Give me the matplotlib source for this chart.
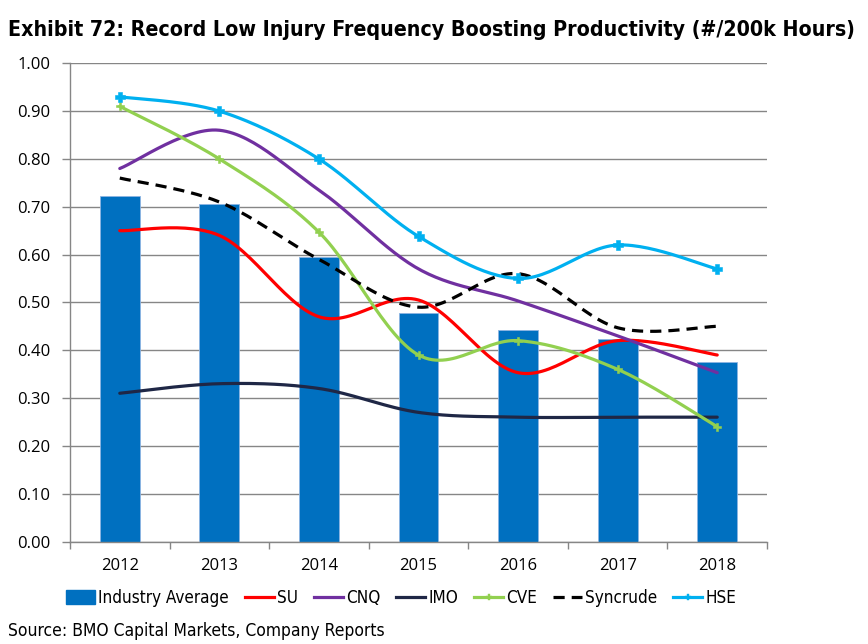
import numpy as np
import matplotlib
matplotlib.use("Agg")
import matplotlib.pyplot as plt
from matplotlib.patches import Patch
from matplotlib.lines import Line2D

years = ["2012", "2013", "2014", "2015", "2016", "2017", "2018"]
industry_avg = [0.722, 0.706, 0.595, 0.478, 0.442, 0.424, 0.376]
su = [0.65, 0.64, 0.47, 0.505, 0.353, 0.42, 0.39]
cnq = [0.78, 0.86, 0.735, 0.57, 0.503, 0.43, 0.353]
imo = [0.31, 0.33, 0.32, 0.27, 0.26, 0.26, 0.26]
cve = [0.91, 0.80, 0.647, 0.39, 0.42, 0.36, 0.24]
syncrude = [0.76, 0.71, 0.59, 0.49, 0.56, 0.447, 0.45]
hse = [0.93, 0.90, 0.80, 0.638, 0.55, 0.62, 0.57]
yticks = [0.0, 0.1, 0.2, 0.3, 0.4, 0.5, 0.6, 0.7, 0.8, 0.9, 1.0]

NARROW = ["DejaVu Sans"]
REG = ["Open Sans", "DejaVu Sans"]


def smooth(xs, ys, n=30):
    """Excel-like smoothed line: cubic Bezier with Catmull-Rom tangents."""
    P = np.column_stack([xs, ys]).astype(float)
    m = len(P)
    out = []
    t = np.linspace(0, 1, n)
    for i in range(m - 1):
        p0 = P[i - 1] if i > 0 else P[i]
        p1 = P[i]
        p2 = P[i + 1]
        p3 = P[i + 2] if i + 2 < m else P[i + 1]
        c1 = p1 + (p2 - p0) / 6.0
        c2 = p2 - (p3 - p1) / 6.0
        seg = ((1 - t) ** 3)[:, None] * p1 + (3 * (1 - t) ** 2 * t)[:, None] * c1 \
            + (3 * (1 - t) * t ** 2)[:, None] * c2 + (t ** 3)[:, None] * p2
        out.append(seg if i == 0 else seg[1:])
    s = np.vstack(out)
    return s[:, 0], s[:, 1]


fig = plt.figure(figsize=(8.68, 6.44), dpi=100)
renderer = fig.canvas.get_renderer()
ax = fig.add_axes([70 / 868, 1 - 541.5 / 644, 697 / 868, (541.5 - 63.3) / 644])

x = np.arange(len(years))
grey = "#868686"

ax.bar(x, industry_avg, width=0.4, color="#0070C0", edgecolor="#8DB4E2",
       linewidth=0.6, zorder=2)

series = [
    (su, "#FF0000", "-", None, 0),
    (cnq, "#7030A0", "-", None, 0),
    (imo, "#1F2746", "-", None, 0),
    (cve, "#92D050", "-", "P", 6.0),
    (syncrude, "#000000", (0, (3.5, 2.2)), None, 0),
    (hse, "#00B0F0", "-", "P", 7.0),
]
for vals, col, ls, mk, ms in series:
    sx, sy = smooth(x, vals)
    ax.plot(sx, sy, color=col, lw=2.3, ls=ls, zorder=3, solid_capstyle="round")
    if mk:
        ax.plot(x, vals, ls="none", marker=mk, ms=ms, color=col,
                markeredgewidth=0.4, markeredgecolor=col, zorder=4)

ax.set_xlim(-0.5, 6.5)
ax.set_ylim(0, 1.0)
ax.set_yticks(yticks)
ax.set_yticklabels([f"{v:.2f}" for v in yticks], family=REG, fontsize=12)
ax.set_xticks(x)
ax.set_xticklabels(years, family=REG, fontsize=12)
ax.set_xticks(np.arange(-0.5, 7, 1), minor=True)
ax.tick_params(axis="x", which="major", length=0, pad=12)
ax.tick_params(axis="x", which="minor", length=5, color=grey, width=1)
ax.tick_params(axis="y", length=6, color=grey, width=1, pad=8)
ax.yaxis.grid(True, color=grey, lw=1)
ax.set_axisbelow(True)
for s in ["top", "right"]:
    ax.spines[s].set_visible(False)
for s in ["left", "bottom"]:
    ax.spines[s].set_color(grey)
    ax.spines[s].set_linewidth(1)


def fit_text(t, target_w):
    w = t.get_window_extent(renderer).width
    t.set_fontsize(t.get_fontsize() * target_w / w)


title = fig.text(8 / 868, 1 - 30 / 644,
                 "Exhibit 72: Record Low Injury Frequency Boosting Productivity (#/200k Hours)",
                 family=NARROW, fontweight="bold", fontstretch="condensed",
                 fontsize=15, va="center", ha="left")
fit_text(title, 850)
src = fig.text(8 / 868, 1 - 631 / 644, "Source: BMO Capital Markets, Company Reports",
               family=NARROW, fontstretch="condensed", fontsize=12, va="center", ha="left")
fit_text(src, 376)
leg_size = src.get_fontsize() * 0.98
fpx = leg_size * 100 / 72.0

handles = [Patch(facecolor="#0070C0", edgecolor="#0070C0")]
labels = ["Industry Average", "SU", "CNQ", "IMO", "CVE", "Syncrude", "HSE"]
for vals, col, ls, mk, ms in series:
    handles.append(Line2D([], [], color=col, lw=2.3, ls=ls, marker=mk, ms=5,
                          markeredgewidth=0.3, markeredgecolor=col))
leg = fig.legend(handles, labels, loc="center left", bbox_to_anchor=(66 / 868, 1 - 598 / 644),
                 ncol=7, frameon=False,
                 prop={"family": NARROW, "size": leg_size, "stretch": "condensed"},
                 handlelength=29 / fpx, handletextpad=3 / fpx, columnspacing=16 / fpx,
                 handleheight=0.9, borderaxespad=0, borderpad=0)

fig.savefig("out.png", dpi=100)
